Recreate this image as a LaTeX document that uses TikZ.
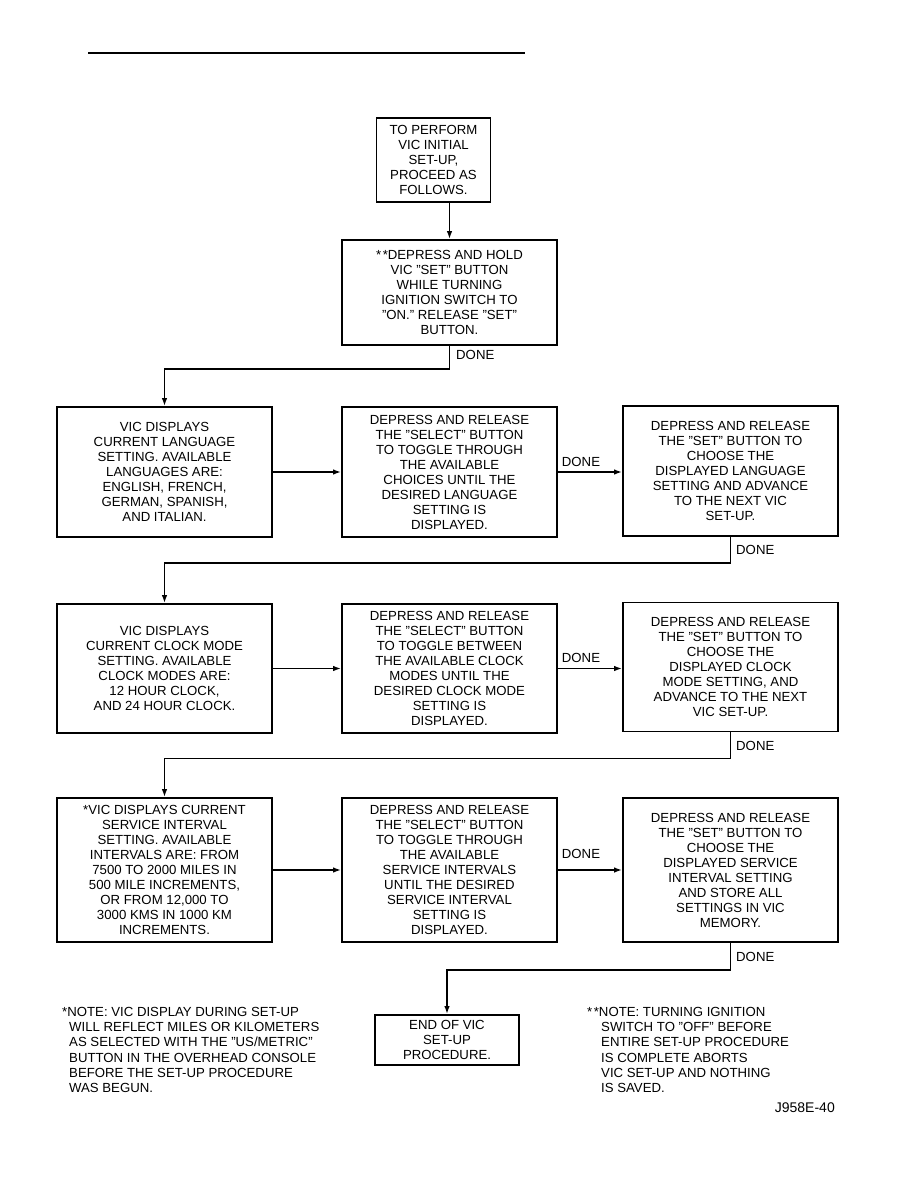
\documentclass[tikz,border=0pt]{standalone}
\usepackage{fontspec}
\setmainfont{Liberation Sans}
\usetikzlibrary{arrows.meta,calc}
\newcommand{\qo}{\char"201D}
\tikzset{
  box/.style={draw,line width=1.7pt,align=center,inner sep=0pt,
    font=\fontsize{13.2}{15}\selectfont,minimum width=215pt},
  arr/.style={line width=1.7pt,-{Latex[length=8pt,width=5.5pt]}},
  lbl/.style={font=\fontsize{13.2}{15}\selectfont,inner sep=0pt},
  note/.style={font=\fontsize{13.2}{15.2}\selectfont,inner sep=0pt,align=left}
}
\begin{document}
\begin{tikzpicture}[x=1pt,y=-1pt]
\useasboundingbox (0,0) rectangle (918,1188);
\draw[line width=2.8pt] (88,53) -- (525,53);

\node[box,minimum width=114pt,minimum height=84pt] (b1) at (433.5,160)
  {TO PERFORM\\VIC INITIAL\\SET-UP,\\PROCEED AS\\FOLLOWS.};
\node[box,minimum height=105pt] (b2) at (449.5,292.5)
  {*\kern1.5pt*DEPRESS AND HOLD\\VIC \qo SET\qo{} BUTTON\\WHILE TURNING\\IGNITION SWITCH TO\\\qo ON.\qo{} RELEASE \qo SET\qo\\BUTTON.};

\node[box,minimum height=130pt] (b3) at (164.5,472)
  {VIC DISPLAYS\\CURRENT LANGUAGE\\SETTING. AVAILABLE\\LANGUAGES ARE:\\ENGLISH, FRENCH,\\GERMAN, SPANISH,\\AND ITALIAN.};
\node[box,minimum height=130pt] (b4) at (449.5,472)
  {DEPRESS AND RELEASE\\THE \qo SELECT\qo{} BUTTON\\TO TOGGLE THROUGH\\THE AVAILABLE\\CHOICES UNTIL THE\\DESIRED LANGUAGE\\SETTING IS\\DISPLAYED.};
\node[box,minimum height=130pt] (b5) at (730.5,471)
  {DEPRESS AND RELEASE\\THE \qo SET\qo{} BUTTON TO\\CHOOSE THE\\DISPLAYED LANGUAGE\\SETTING AND ADVANCE\\TO THE NEXT VIC\\SET-UP.};

\node[box,minimum height=129pt] (b6) at (164.5,668.5)
  {VIC DISPLAYS\\CURRENT CLOCK MODE\\SETTING. AVAILABLE\\CLOCK MODES ARE:\\12 HOUR CLOCK,\\AND 24 HOUR CLOCK.};
\node[box,minimum height=129pt] (b7) at (449.5,668.5)
  {DEPRESS AND RELEASE\\THE \qo SELECT\qo{} BUTTON\\TO TOGGLE BETWEEN\\THE AVAILABLE CLOCK\\MODES UNTIL THE\\DESIRED CLOCK MODE\\SETTING IS\\DISPLAYED.};
\node[box,minimum height=129pt] (b8) at (730.5,667)
  {DEPRESS AND RELEASE\\THE \qo SET\qo{} BUTTON TO\\CHOOSE THE\\DISPLAYED CLOCK\\MODE SETTING, AND\\ADVANCE TO THE NEXT\\VIC SET-UP.};

\node[box,minimum height=144pt] (b9) at (164.5,870)
  {*VIC DISPLAYS CURRENT\\SERVICE INTERVAL\\SETTING. AVAILABLE\\INTERVALS ARE: FROM\\7500 TO 2000 MILES IN\\500 MILE INCREMENTS,\\OR FROM 12,000 TO\\3000 KMS IN 1000 KM\\INCREMENTS.};
\node[box,minimum height=144pt] (b10) at (449.5,870)
  {DEPRESS AND RELEASE\\THE \qo SELECT\qo{} BUTTON\\TO TOGGLE THROUGH\\THE AVAILABLE\\SERVICE INTERVALS\\UNTIL THE DESIRED\\SERVICE INTERVAL\\SETTING IS\\DISPLAYED.};
\node[box,minimum height=144pt] (b11) at (730.5,870)
  {DEPRESS AND RELEASE\\THE \qo SET\qo{} BUTTON TO\\CHOOSE THE\\DISPLAYED SERVICE\\INTERVAL SETTING\\AND STORE ALL\\SETTINGS IN VIC\\MEMORY.};

\node[box,minimum width=144pt,minimum height=50pt] (end) at (447,1040)
  {END OF VIC\\SET-UP\\PROCEDURE.};

% connectors
\draw[arr] (b2.north |- b1.south) -- (b2.north);
\draw[arr] (b2.south) -- ++(0,23) -| (b3.north);
\node[lbl,anchor=west] (d1) at (456,355) {DONE};

\draw[arr] (b3.east) -- (b4.west);
\draw[arr] (b4.east) -- (b4.east -| b5.west);
\node[lbl,anchor=south] (d2) at (581,467) {DONE};
\draw[arr] (b5.south) -- ++(0,26) -| (b6.north);
\node[lbl,anchor=west] (d3) at (736,550) {DONE};

\draw[arr] (b6.east) -- (b7.west);
\draw[arr] (b7.east) -- (b7.east -| b8.west);
\node[lbl,anchor=south] (d4) at (581,663) {DONE};
\draw[arr] (b8.south) -- ++(0,26) -| (b9.north);
\node[lbl,anchor=west] (d5) at (736,746) {DONE};

\draw[arr] (b9.east) -- (b10.west);
\draw[arr] (b10.east) -- (b10.east -| b11.west);
\node[lbl,anchor=south] (d6) at (581,859) {DONE};
\draw[arr] (b11.south) -- ++(0,27) -| (end.north);
\node[lbl,anchor=west] (d7) at (736,957) {DONE};

% notes
\node[note,anchor=north west] (n1) at (62,1007)
  {*NOTE: VIC DISPLAY DURING SET-UP\\
   \hspace*{7pt}WILL REFLECT MILES OR KILOMETERS\\
   \hspace*{7pt}AS SELECTED WITH THE \qo US/METRIC\qo\\
   \hspace*{7pt}BUTTON IN THE OVERHEAD CONSOLE\\
   \hspace*{7pt}BEFORE THE SET-UP PROCEDURE\\
   \hspace*{7pt}WAS BEGUN.};
\node[note,anchor=north west] (n2) at (587,1007)
  {*\kern1.5pt*NOTE: TURNING IGNITION\\
   \hspace*{14pt}SWITCH TO \qo OFF\qo{} BEFORE\\
   \hspace*{14pt}ENTIRE SET-UP PROCEDURE\\
   \hspace*{14pt}IS COMPLETE ABORTS\\
   \hspace*{14pt}VIC SET-UP AND NOTHING\\
   \hspace*{14pt}IS SAVED.};
\node[lbl,anchor=east,font=\fontsize{14}{15}\selectfont] (code) at (835,1108) {J958E-40};
\end{tikzpicture}
\end{document}
